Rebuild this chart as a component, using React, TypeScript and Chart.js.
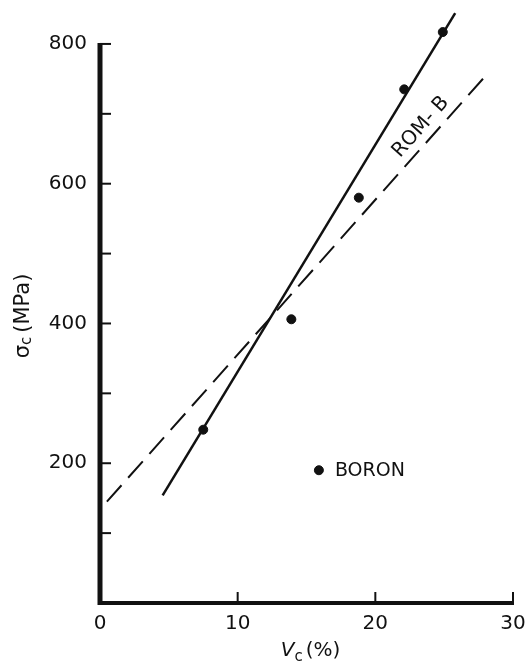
import React, { useEffect, useRef } from "react";
import { Chart, registerables } from "chart.js";

Chart.register(...registerables);

// Data
const vcValues = [7.5, 13.9, 18.8, 22.1, 24.9];
const sigmaValues = [248, 406, 580, 735, 817];
const fitX = [4.55, 25.8];
const fitY = [154, 844];
const romX = [0.5, 27.9];
const romY = [145, 752];
const legendX = [15.9];
const legendY = [190];
const xTickLabels = [0, 10, 20, 30];
const yTickLabels = [200, 400, 600, 800];
const yMinorTicks = [100, 200, 300, 400, 500, 600, 700, 800];
const xMajorTicks = [10, 20, 30];
const romLabelPos = [23.3, 681];

const FONT = "'DejaVu Sans', sans-serif";
const INK = "#111";

const pts = (xs: number[], ys: number[]) => xs.map((x, i) => ({ x, y: ys[i] }));

const decorPlugin = {
  id: "decor",
  afterDraw(chart: any) {
    const ctx = chart.ctx as CanvasRenderingContext2D;
    const xs = chart.scales.x;
    const ys = chart.scales.y;
    const x0 = xs.getPixelForValue(0);
    const x30 = xs.getPixelForValue(30);
    const y0 = ys.getPixelForValue(0);
    const y800 = ys.getPixelForValue(800);
    ctx.save();
    ctx.strokeStyle = INK;
    ctx.fillStyle = INK;
    ctx.lineCap = "butt";
    // y axis
    ctx.lineWidth = 5;
    ctx.beginPath();
    ctx.moveTo(x0, y0 + 2);
    ctx.lineTo(x0, y800 - 1);
    ctx.stroke();
    // x axis
    ctx.lineWidth = 4;
    ctx.beginPath();
    ctx.moveTo(x0 - 2, y0);
    ctx.lineTo(x30 + 1, y0);
    ctx.stroke();
    // y ticks (inward)
    ctx.lineWidth = 2;
    yMinorTicks.forEach((v) => {
      const py = ys.getPixelForValue(v);
      ctx.beginPath();
      ctx.moveTo(x0, py);
      ctx.lineTo(x0 + 11, py);
      ctx.stroke();
    });
    // x ticks (inward)
    xMajorTicks.forEach((v) => {
      const px = xs.getPixelForValue(v);
      ctx.beginPath();
      ctx.moveTo(px, y0);
      ctx.lineTo(px, y0 - 11);
      ctx.stroke();
    });

    // x title: V_c (%)
    {
      const cx = (x0 + x30) / 2 + 4;
      const by = y0 + 53;
      ctx.textBaseline = "alphabetic";
      ctx.textAlign = "left";
      const fMain = `20px ${FONT}`;
      const fItal = `italic 20px ${FONT}`;
      const fSub = `15px ${FONT}`;
      ctx.font = fItal;
      const wV = ctx.measureText("V").width;
      ctx.font = fSub;
      const wc = ctx.measureText("c").width;
      ctx.font = fMain;
      const wr = ctx.measureText("(%)").width;
      const total = wV + wc + 3 + wr;
      let sx = cx - total / 2;
      ctx.font = fItal;
      ctx.fillText("V", sx, by);
      sx += wV;
      ctx.font = fSub;
      ctx.fillText("c", sx, by + 5);
      sx += wc + 3;
      ctx.font = fMain;
      ctx.fillText("(%)", sx, by);
    }

    // y title: σ_c (MPa)
    {
      ctx.save();
      ctx.translate(29, 316);
      ctx.rotate(-Math.PI / 2);
      ctx.textBaseline = "alphabetic";
      ctx.textAlign = "left";
      const fMain = `21px ${FONT}`;
      const fSub = `15px ${FONT}`;
      ctx.font = fMain;
      const ws = ctx.measureText("σ").width;
      ctx.font = fSub;
      const wc = ctx.measureText("c").width;
      ctx.font = fMain;
      const wr = ctx.measureText("(MPa)").width;
      const total = ws + wc + 4 + wr;
      let sx = -total / 2;
      ctx.font = fMain;
      ctx.fillText("σ", sx, 0);
      sx += ws;
      ctx.font = fSub;
      ctx.fillText("c", sx, 2);
      sx += wc + 4;
      ctx.font = fMain;
      ctx.fillText("(MPa)", sx, 0);
      ctx.restore();
    }

    // legend text BORON
    {
      const px = xs.getPixelForValue(legendX[0]);
      const py = ys.getPixelForValue(legendY[0]);
      ctx.font = `19px ${FONT}`;
      ctx.textAlign = "left";
      ctx.textBaseline = "middle";
      ctx.fillText("BORON", px + 16, py + 1);
    }

    // ROM-B label along dashed line
    {
      const ax = xs.getPixelForValue(romX[0]);
      const ay = ys.getPixelForValue(romY[0]);
      const bx = xs.getPixelForValue(romX[1]);
      const by = ys.getPixelForValue(romY[1]);
      const ang = Math.atan2(by - ay, bx - ax);
      const px = xs.getPixelForValue(romLabelPos[0]);
      const py = ys.getPixelForValue(romLabelPos[1]);
      ctx.save();
      ctx.translate(px, py);
      ctx.rotate(ang);
      ctx.font = `20px ${FONT}`;
      ctx.textAlign = "center";
      ctx.textBaseline = "middle";
      ctx.fillText("ROM- B", 0, 0);
      ctx.restore();
    }
    ctx.restore();
  },
};

export default function App() {
  const ref = useRef<HTMLCanvasElement | null>(null);
  useEffect(() => {
    if (!ref.current) return;
    const chart = new Chart(ref.current, {
      type: "scatter",
      data: {
        datasets: [
          {
            label: "Fit",
            data: pts(fitX, fitY),
            showLine: true,
            borderColor: INK,
            borderWidth: 2.5,
            pointRadius: 0,
            clip: false,
          } as any,
          {
            label: "ROM-B",
            data: pts(romX, romY),
            showLine: true,
            borderColor: INK,
            borderWidth: 2,
            borderDash: [22, 10],
            pointRadius: 0,
            clip: false,
          } as any,
          {
            label: "Boron",
            data: pts(vcValues, sigmaValues),
            backgroundColor: INK,
            borderColor: INK,
            pointRadius: 4.5,
            clip: false,
          } as any,
          {
            label: "Legend",
            data: pts(legendX, legendY),
            backgroundColor: INK,
            borderColor: INK,
            pointRadius: 4.5,
            clip: false,
          } as any,
        ],
      },
      options: {
        animation: false,
        responsive: false,
        maintainAspectRatio: false,
        layout: { padding: { top: 9, right: 15, left: 0, bottom: 0 } },
        plugins: { legend: { display: false }, tooltip: { enabled: false } },
        scales: {
          x: {
            type: "linear",
            min: 0,
            max: 30,
            grid: { display: false, drawTicks: false },
            border: { display: false },
            afterFit: (s: any) => {
              s.height = 67;
              s.paddingRight = 0;
              s.paddingLeft = 0;
            },
            ticks: {
              stepSize: 10,
              padding: 9,
              color: INK,
              font: { family: FONT, size: 20 },
              maxRotation: 0,
              callback: (v: any) => (xTickLabels.includes(Number(v)) ? String(v) : ""),
            },
          },
          y: {
            type: "linear",
            min: 0,
            max: 850,
            grid: { display: false, drawTicks: false },
            border: { display: false },
            afterFit: (s: any) => {
              s.width = 100;
              s.paddingTop = 0;
              s.paddingBottom = 0;
            },
            ticks: {
              stepSize: 100,
              padding: 13,
              color: INK,
              font: { family: FONT, size: 20 },
              callback: (v: any) => (yTickLabels.includes(Number(v)) ? String(v) : ""),
            },
          },
        },
      },
      plugins: [decorPlugin],
    });
    return () => chart.destroy();
  }, []);
  return (
    <div style={{ position: "absolute", left: 0, top: 0, width: 528, height: 670 }}>
      <canvas ref={ref} width={528} height={670} style={{ display: "block" }} />
    </div>
  );
}
